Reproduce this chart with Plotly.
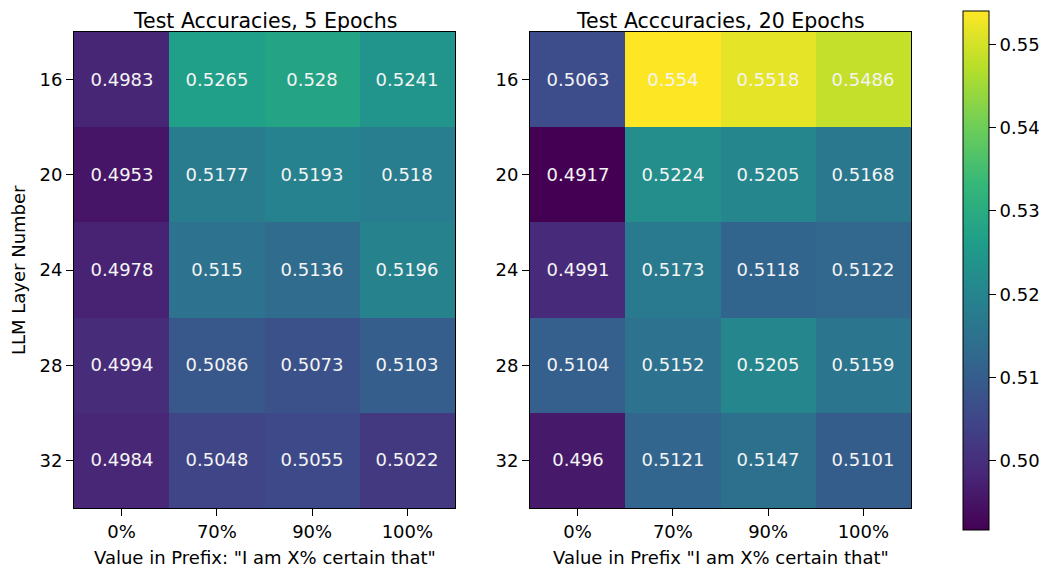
import plotly.graph_objects as go

prefix_values = ["0%", "70%", "90%", "100%"]
layers = ["16", "20", "24", "28", "32"]

acc_5_epochs = [
    [0.4983, 0.5265, 0.528, 0.5241],
    [0.4953, 0.5177, 0.5193, 0.518],
    [0.4978, 0.515, 0.5136, 0.5196],
    [0.4994, 0.5086, 0.5073, 0.5103],
    [0.4984, 0.5048, 0.5055, 0.5022],
]
acc_20_epochs = [
    [0.5063, 0.554, 0.5518, 0.5486],
    [0.4917, 0.5224, 0.5205, 0.5168],
    [0.4991, 0.5173, 0.5118, 0.5122],
    [0.5104, 0.5152, 0.5205, 0.5159],
    [0.496, 0.5121, 0.5147, 0.5101],
]
colorbar_ticks = [0.50, 0.51, 0.52, 0.53, 0.54, 0.55]

# page body has an 8px margin; size the figure so it fits the window exactly
OFF = 8
W, H = 1047 - OFF, 571 - OFF

def px(x):
    return (x - OFF) / W

def py(y):
    return 1 - (y - OFF) / H

zmin = min(min(r) for r in acc_5_epochs + acc_20_epochs)
zmax = max(max(r) for r in acc_5_epochs + acc_20_epochs)

FONT = "DejaVu Sans"
BASE = 18
fig = go.Figure()

def txt(m):
    return [[f"{v:g}" for v in row] for row in m]

fig.add_trace(go.Heatmap(
    z=acc_5_epochs, x=prefix_values, y=layers, text=txt(acc_5_epochs),
    texttemplate="%{text}", textfont=dict(color="#f4f4f4", size=BASE, family=FONT),
    colorscale="Viridis", zmin=zmin, zmax=zmax, showscale=False,
    xaxis="x", yaxis="y",
))
fig.add_trace(go.Heatmap(
    z=acc_20_epochs, x=prefix_values, y=layers, text=txt(acc_20_epochs),
    texttemplate="%{text}", textfont=dict(color="#f4f4f4", size=BASE, family=FONT),
    colorscale="Viridis", zmin=zmin, zmax=zmax, showscale=True,
    xaxis="x2", yaxis="y2",
    colorbar=dict(
        x=px(963), xanchor="left", thickness=26, thicknessmode="pixels",
        len=519, lenmode="pixels", y=py(270.5), yanchor="middle",
        outlinewidth=1, outlinecolor="black", xpad=0, ypad=0,
        tickvals=colorbar_ticks, ticktext=[f"{t:.2f}" for t in colorbar_ticks],
        ticks="outside", ticklen=7, tickcolor="black",
        tickfont=dict(size=BASE, family=FONT, color="black"),
    ),
))

axis_common = dict(
    showline=True, mirror=True, linecolor="black", linewidth=1,
    ticks="outside", ticklen=7, tickcolor="black", showgrid=False, zeroline=False,
    tickfont=dict(size=BASE, family=FONT, color="black"), type="category",
)
ydom = [py(508), py(32)]
fig.update_layout(
    width=W, height=H, margin=dict(l=0, r=0, t=0, b=0, autoexpand=False),
    paper_bgcolor="white", plot_bgcolor="white",
    font=dict(family=FONT, color="black"),
    xaxis=dict(domain=[px(74), px(455)], anchor="y", **axis_common),
    yaxis=dict(domain=ydom, anchor="x", autorange="reversed", **axis_common),
    xaxis2=dict(domain=[px(530), px(911)], anchor="y2", **axis_common),
    yaxis2=dict(domain=ydom, anchor="x2", autorange="reversed", **axis_common),
)

titles = [
    ("Test Accuracies, 5 Epochs", px((74 + 455) / 2)),
    ("Test Acccuracies, 20 Epochs", px((530 + 911) / 2)),
]
for t, x in titles:
    fig.add_annotation(text=t, x=x, y=1, xref="paper", yref="paper",
                       xanchor="center", yanchor="top", showarrow=False, borderpad=0,
                       font=dict(size=20.5, family=FONT, color="black"))

xlabels = [
    ('Value in Prefix: "I am X% certain that"', px((74 + 455) / 2)),
    ('Value in Prefix "I am X% certain that"', px((530 + 911) / 2)),
]
for t, x in xlabels:
    fig.add_annotation(text=t, x=x, y=py(557), xref="paper", yref="paper",
                       xanchor="center", yanchor="middle", showarrow=False,
                       font=dict(size=BASE, family=FONT, color="black"))

fig.add_annotation(text="LLM Layer Number", x=px(18), y=(ydom[0] + ydom[1]) / 2,
                   xref="paper", yref="paper", textangle=-90, showarrow=False,
                   xanchor="center", yanchor="middle",
                   font=dict(size=BASE, family=FONT, color="black"))

fig.write_html("out.html")
